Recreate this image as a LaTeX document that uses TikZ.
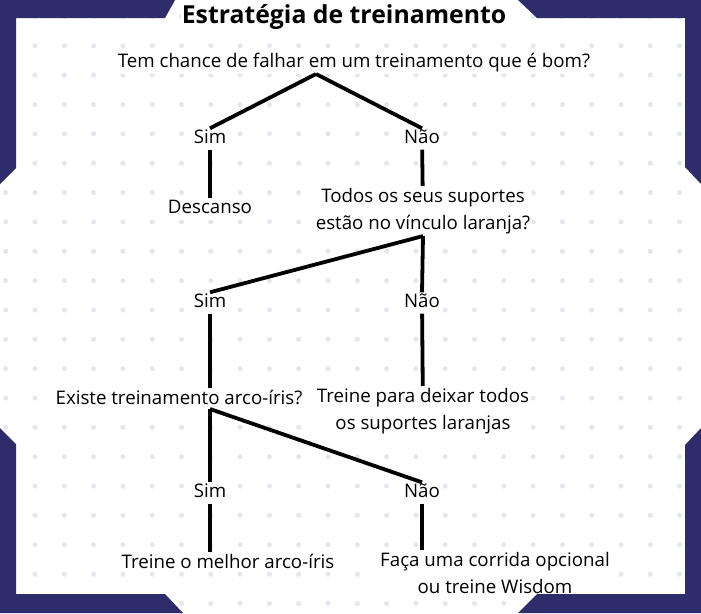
\documentclass[tikz,border=0pt]{standalone}
\usepackage{fontspec}
\setmainfont{Open Sans}
\usepackage{xcolor}
\usepackage{tikz}
\usetikzlibrary{positioning}
\definecolor{framenavy}{HTML}{2E2C6B}
\definecolor{dotgray}{HTML}{E6E7EE}

\begin{document}
\begin{tikzpicture}[x=1pt, y=-1pt,
    answer/.style={fill=white, inner sep=2pt, font=\fontsize{18.7}{22}\selectfont, text height=13pt, text depth=4pt},
    question/.style={fill=white, inner sep=2pt, align=center, font=\fontsize{18.7}{27}\selectfont},
    branch/.style={line width=3.8pt}]
    \useasboundingbox (0,0) rectangle (701,613);
    % dotted background
    \foreach \i in {0,...,23}
        \foreach \j in {0,...,20}
            \fill[dotgray] (5.7+29.3*\i, 16.5+29.35*\j) circle (2.6);

    \node (title) [fill=white, inner sep=1pt, font=\bfseries\fontsize{24.8}{28}\selectfont] at (344,17) {Estratégia de treinamento};

    \node (q1) [question] at (354,63) {Tem chance de falhar em um treinamento que é bom?};
    \coordinate (fork1) at (316,74);
    \node (sim1) [answer] at (210,139) {Sim};
    \node (nao1) [answer] at (422,139) {Não};
    \node (rest) [answer] at (210,209) {Descanso};
    \node (q2) [question] at (423,211) {Todos os seus suportes\\estão no vínculo laranja?};
    \node (sim2) [answer] at (210,303) {Sim};
    \node (nao2) [answer] at (422,303) {Não};
    \node (q3) [question] at (179,397) {Existe treinamento arco-íris?};
    \node (fix) [question] at (423,411) {Treine para deixar todos\\os suportes laranjas};
    \coordinate (fork3) at (210,409);
    \node (sim3) [answer] at (210,493) {Sim};
    \node (nao3) [answer] at (422,493) {Não};
    \node (best) [question] at (228,561) {Treine o melhor arco-íris};
    \node (wisdom) [question] at (495,573) {Faça uma corrida opcional\\ou treine Wisdom};

    \draw[branch] (fork1) -- (sim1.north);
    \draw[branch] (fork1) -- (nao1.north);
    \draw[branch] (sim1) -- (rest);
    \draw[branch] (nao1) -- (q2);
    \draw[branch] (q2.south) -- (sim2.north);
    \draw[branch] (q2.south) -- (nao2.north);
    \draw[branch] (sim2.south) -- (sim2.south |- q3.north);
    \draw[branch] (nao2) -- (fix);
    \draw[branch] (fork3) -- (sim3.north);
    \draw[branch] (fork3) -- (nao3.north);
    \draw[branch] (sim3.south) -- (sim3.south |- best.north);
    \draw[branch] (nao3.south) -- (nao3.south |- wisdom.north);

    % corner frames
    \fill[framenavy] (0,0) -- (175,0) -- (165,18) -- (16,18) -- (16,168) -- (0,184) -- cycle;
    \fill[framenavy] (518,0) -- (701,0) -- (701,184) -- (685,167) -- (685,18) -- (537,18) -- cycle;
    \fill[framenavy] (0,428) -- (16,444) -- (16,594) -- (165,594) -- (183,613) -- (0,613) -- cycle;
    \fill[framenavy] (701,428) -- (685,445) -- (685,594) -- (537,594) -- (518,613) -- (701,613) -- cycle;
\end{tikzpicture}
\end{document}
